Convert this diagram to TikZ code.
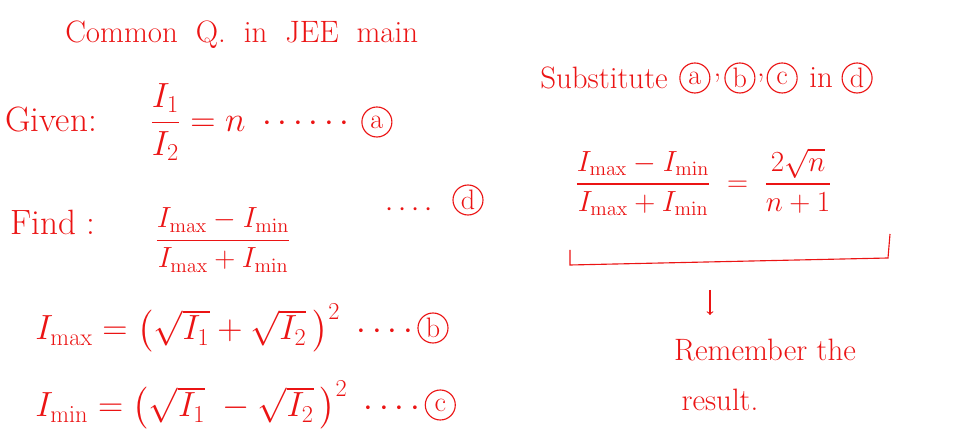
\documentclass[tikz,border=0pt]{standalone}
\usepackage{amsmath}
\usetikzlibrary{positioning}
\definecolor{ink}{RGB}{235,20,20}
\begin{document}
\begin{tikzpicture}[x=0.025cm,y=-0.025cm,
  txt/.style={text=ink,inner sep=0pt,font=\fontsize{22}{26}\selectfont},
  big/.style={text=ink,inner sep=0pt,font=\fontsize{25}{30}\selectfont},
  circ/.style={draw=ink,text=ink,circle,inner sep=0pt,minimum size=0.75cm,font=\fontsize{20}{22}\selectfont,thick}]
\useasboundingbox (0,0) rectangle (980,444);
\node[txt,anchor=west] (title) at (65,35) {Common\; Q.\; in\; JEE\; main};
\node[big,anchor=west] (given) at (5,120) {Given:};
\node[big,anchor=west] (g1) at (150,122) {$\dfrac{I_1}{I_2} = n\ \cdots\cdots$};
\node[circ,right=4pt of g1.east] (ca) {a};
\node[big,anchor=west] (find) at (10,222) {Find :};
\node[txt,anchor=west] (f1) at (155,240) {$\dfrac{I_{\max}-I_{\min}}{I_{\max}+I_{\min}}$};
\node[txt,anchor=west] (fd) at (385,210) {$\cdots\cdot$};
\node[circ] (cd) at (468,200) {d};
\node[big,anchor=west] (imax) at (35,328) {$I_{\max} = \bigl(\sqrt{I_1}+\sqrt{I_2}\,\bigr)^2\ \cdots\cdot$};
\node[circ,right=3pt of imax.east] (cb) {b};
\node[big,anchor=west] (imin) at (35,405) {$I_{\min} = \bigl(\sqrt{I_1}\;-\sqrt{I_2}\,\bigr)^2\ \cdots\cdot$};
\node[circ,right=3pt of imin.east] (cc) {c};
\node[txt,anchor=west] (sub) at (540,78) {Substitute};
\node[circ,right=8pt of sub.east] (sa) {a};
\node[txt,right=2pt of sa.east] (cm) {,};
\node[circ,right=2pt of cm.east] (sb) {b};
\node[txt,right=1pt of sb.east] (cm2) {,};
\node[circ,right=1pt of cm2.east] (sc) {c};
\node[txt,right=8pt of sc.east] (in) {in};
\node[circ,right=6pt of in.east] (sd) {d};
\node[txt,anchor=west] (res) at (575,182) {$\dfrac{I_{\max}-I_{\min}}{I_{\max}+I_{\min}} \;=\; \dfrac{2\sqrt{n}}{n+1}$};
\coordinate (b1) at (570,250);
\coordinate (b2) at (570,265);
\coordinate (b3) at (888,258);
\coordinate (b4) at (890,234);
\draw[ink,thick] (b1) -- (b2) -- (b3) -- (b4);
\node[txt] (rem) at (765,350) {Remember the};
\node[txt] (rslt) at (720,400) {result.};
\coordinate (a1) at (710,290);
\coordinate (a2) at (710,315);
\draw[ink,thick,->] (a1) -- (a2);
\end{tikzpicture}
\end{document}
